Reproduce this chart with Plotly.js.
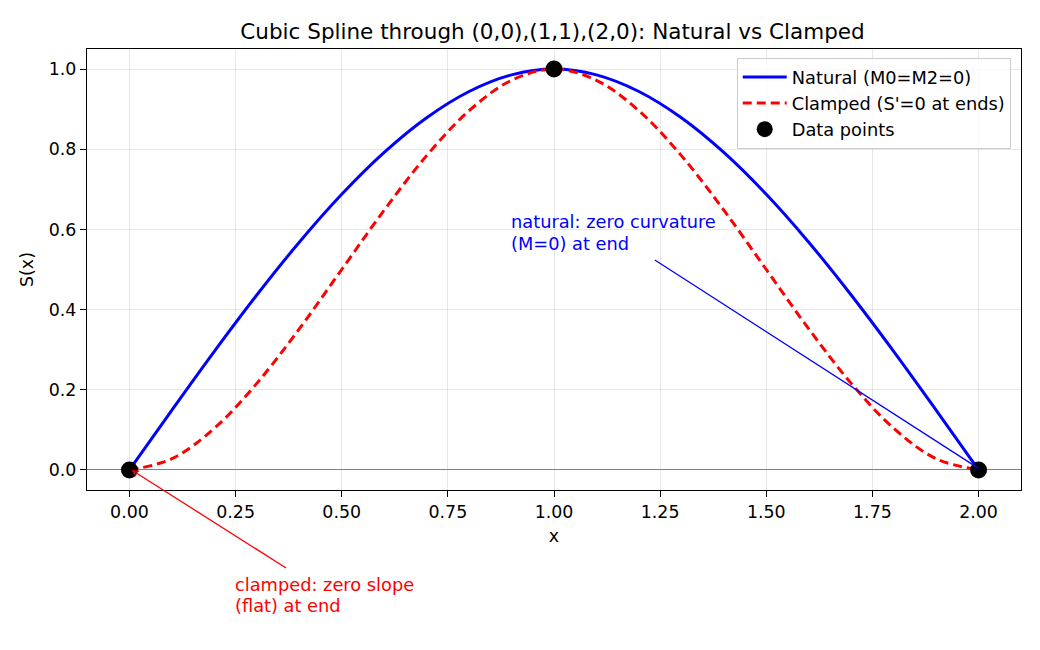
<!DOCTYPE html>
<html>
<head>
<meta charset="utf-8">
<script src="https://cdn.plot.ly/plotly-3.0.1.min.js"></script>
<style>html,body{margin:0;padding:0;background:#fff}#chart{width:1040px;height:650px}</style>
</head>
<body>
<div id="chart"></div>
<script>
var xs = [0,0.1,0.2,0.3,0.4,0.5,0.6,0.7,0.8,0.9,1.0,1.1,1.2,1.3,1.4,1.5,1.6,1.7,1.8,1.9,2.0];
var naturalY = [0,0.1495,0.296,0.4365,0.568,0.6875,0.792,0.8785,0.944,0.9855,1,0.9855,0.944,0.8785,0.792,0.6875,0.568,0.4365,0.296,0.1495,0];
var clampedY = [0,0.028,0.104,0.216,0.352,0.5,0.648,0.784,0.896,0.972,1,0.972,0.896,0.784,0.648,0.5,0.352,0.216,0.104,0.028,0];
var dataX = [0,1,2];
var dataY = [0,1,0];
var xTicks = [0,0.25,0.5,0.75,1.0,1.25,1.5,1.75,2.0];
var xTickText = ["0.00","0.25","0.50","0.75","1.00","1.25","1.50","1.75","2.00"];
var yTicks = [0,0.2,0.4,0.6,0.8,1.0];
var yTickText = ["0.0","0.2","0.4","0.6","0.8","1.0"];
var naturalNote = ["natural: zero curvature", "(M=0) at end"];
var clampedNote = ["clamped: zero slope", "(flat) at end"];

var font = "'DejaVu Sans', sans-serif";
var fs = 17.8;
var traces = [
  {x: xs, y: naturalY, mode: "lines", name: "Natural (M0=M2=0)", line: {color: "#0000ff", width: 3, shape: "spline"}},
  {x: xs, y: clampedY, mode: "lines", name: "Clamped (S'=0 at ends)", line: {color: "#ff0000", width: 3, dash: "9px,5px", shape: "spline"}},
  {x: dataX, y: dataY, mode: "markers", name: "Data points", marker: {color: "#000000", size: 17}}
];
var axisCommon = {
  showline: true, mirror: true, linecolor: "#000", linewidth: 1.2,
  ticks: "outside", ticklen: 6, tickcolor: "#000", tickwidth: 1.2,
  showgrid: true, gridcolor: "rgba(176,176,176,0.3)", gridwidth: 1,
  tickfont: {family: font, size: 17.4, color: "#000"}
};
function px2paperX(p) { return (p - 87) / 934; }
function px2paperY(p) { return (490 - p) / 441; }
function noteLine(txt, xpx, ypx, color) {
  return {x: px2paperX(xpx), y: px2paperY(ypx), xref: "paper", yref: "paper", xanchor: "left", yanchor: "middle",
    showarrow: false, text: txt, font: {family: font, size: fs, color: color}};
}
var layout = {
  width: 1040, height: 650,
  paper_bgcolor: "#fff", plot_bgcolor: "#fff",
  margin: {l: 87, r: 19, t: 49, b: 160},
  font: {family: font, color: "#000"},
  title: {text: "Cubic Spline through (0,0),(1,1),(2,0): Natural vs Clamped", font: {family: font, size: 21.5, color: "#000"}, x: (239+866)/2/1040, xanchor: "center", y: 1 - 31/650, yanchor: "middle"},
  xaxis: Object.assign({}, axisCommon, {range: [-0.1, 2.1], tickvals: xTicks, ticktext: xTickText, zeroline: false,
    title: {text: "x", font: {family: font, size: 17.4, color: "#000"}, standoff: 8}}),
  yaxis: Object.assign({}, axisCommon, {range: [-0.05, 1.05], tickvals: yTicks, ticktext: yTickText, zeroline: true, zerolinecolor: "#808080", zerolinewidth: 1,
    title: {text: "S(x)", font: {family: font, size: 17.4, color: "#000"}, standoff: 10}}),
  legend: {x: 0.989, xanchor: "right", y: 0.98, yanchor: "top", bgcolor: "rgba(255,255,255,0.8)", bordercolor: "#cccccc", borderwidth: 1,
    font: {family: font, size: 17.8, color: "#000"}, tracegroupgap: 0, itemwidth: 44},
  showlegend: true,
  annotations: [
    {x: 2.0, y: 0.004, xref: "x", yref: "y", ax: 1.234, ay: 0.526, axref: "x", ayref: "y", showarrow: true, arrowhead: 0, arrowwidth: 1.3, arrowcolor: "#0000ff", text: ""},
    noteLine(naturalNote[0], 509, 222, "#0000ff"),
    noteLine(naturalNote[1], 509, 243, "#0000ff"),
    {x: 0.005, y: 0.0, xref: "x", yref: "y", ax: 156, ay: 99, showarrow: true, arrowhead: 5, arrowsize: 0.9, arrowwidth: 1.3, arrowcolor: "#ff0000", text: "", standoff: 0},
    noteLine(clampedNote[0], 233, 584, "#ff0000"),
    noteLine(clampedNote[1], 233, 605, "#ff0000")
  ]
};
Plotly.newPlot("chart", traces, layout, {displayModeBar: false});
</script>
</body>
</html>
